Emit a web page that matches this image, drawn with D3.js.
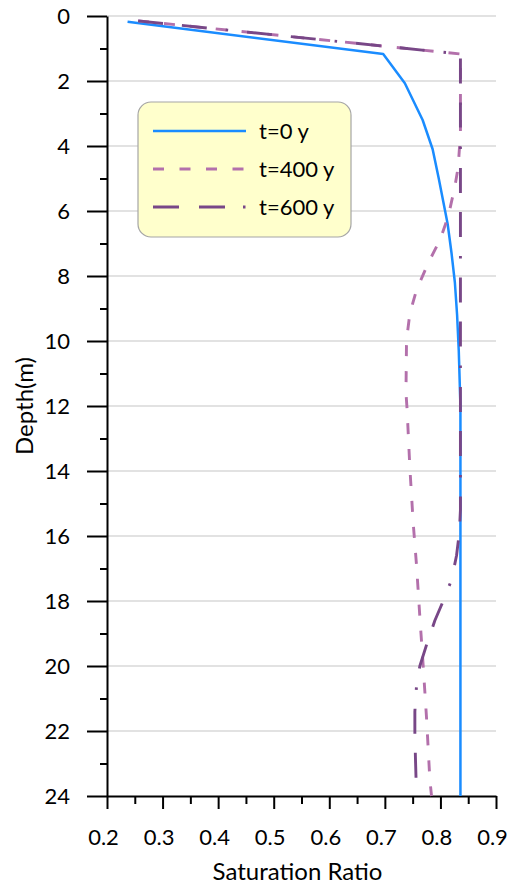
<!DOCTYPE html>
<html>
<head>
<meta charset="utf-8">
<script src="https://cdn.jsdelivr.net/npm/d3@7"></script>
<style>
  body { margin: 0; background: #fff; }
  svg { display: block; font-family: Lato, "Open Sans", sans-serif; }
</style>
</head>
<body>
<svg id="chart" width="509" height="885"></svg>
<script>
// depth (m) and saturation ratio for each profile
var depth0 = [0.18, 1.17, 2.07, 3.2, 4.1, 5.0, 5.7, 6.4, 7.3, 8.2, 9.2, 10.3, 12, 24];
var sat0   = [0.237, 0.697, 0.736, 0.768, 0.786, 0.797, 0.805, 0.813, 0.820, 0.826, 0.830, 0.833, 0.836, 0.836];

var depth400 = [0.15, 1.17, 3.6, 4.64, 5.25, 6.17, 6.9, 7.6, 8.43, 9.15, 9.97, 11.6, 12.1, 13.9, 15.6, 16.9, 18.5, 20.0, 21.6, 23.5, 24];
var sat400   = [0.256, 0.836, 0.836, 0.832, 0.826, 0.814, 0.799, 0.778, 0.757, 0.745, 0.739, 0.738, 0.740, 0.745, 0.751, 0.757, 0.763, 0.769, 0.775, 0.781, 0.784];

var depth600 = [0.15, 1.17, 15.2, 15.9, 16.6, 17.35, 18.0, 18.6, 19.35, 20.0, 20.6, 21.4, 22.1, 22.8, 24];
var sat600   = [0.256, 0.836, 0.836, 0.834, 0.829, 0.820, 0.805, 0.790, 0.775, 0.763, 0.757, 0.754, 0.754, 0.755, 0.757];

var seriesNames = ['t=0 y', 't=400 y', 't=600 y'];
var xTicks = [0.2, 0.3, 0.4, 0.5, 0.6, 0.7, 0.8, 0.9];
var yTicks = [0, 2, 4, 6, 8, 10, 12, 14, 16, 18, 20, 22, 24];

(function () {
    var svg = d3.select('#chart');
    var mLeft = 107, mRight = 496, mTop = 16, mBottom = 796;

    var x = d3.scaleLinear().domain([0.2, 0.9]).range([mLeft, mRight]);
    var y = d3.scaleLinear().domain([0, 24]).range([mTop, mBottom]);

    // gridlines
    svg.append('g').selectAll('line')
        .data(yTicks.slice(0, -1))
        .enter().append('line')
        .attr('x1', mLeft).attr('x2', mRight)
        .attr('y1', function (d) { return y(d); })
        .attr('y2', function (d) { return y(d); })
        .attr('stroke', '#d9d9d9').attr('stroke-width', 1.5);

    // minor ticks
    var yMinor = d3.range(1, 24, 2);
    var xMinor = d3.range(0.25, 0.9, 0.1);

    svg.append('g').attr('transform', 'translate(' + mLeft + ',0)')
        .call(d3.axisLeft(y).tickValues(yMinor).tickSize(7).tickFormat(''))
        .call(function (g) { g.select('.domain').remove(); });
    svg.append('g').attr('transform', 'translate(0,' + mBottom + ')')
        .call(d3.axisBottom(x).tickValues(xMinor).tickSize(8).tickFormat(''))
        .call(function (g) { g.select('.domain').remove(); });

    // major axes
    svg.append('g').attr('transform', 'translate(' + mLeft + ',0)')
        .call(d3.axisLeft(y).tickValues(yTicks).tickSize(20).tickSizeOuter(0).tickPadding(17));
    var xAxis = svg.append('g').attr('transform', 'translate(0,' + mBottom + ')')
        .call(d3.axisBottom(x).tickValues(xTicks).tickSize(13).tickSizeOuter(0).tickPadding(20)
            .tickFormat(d3.format('.1f')));
    xAxis.selectAll('.tick text').attr('dx', -4);

    svg.selectAll('.tick line, .domain').attr('stroke', '#000').attr('stroke-width', 2);
    svg.selectAll('.tick text').attr('font-size', 22).attr('fill', '#000')
        .attr('font-family', 'Lato, "Open Sans", sans-serif');

    // axis titles
    svg.append('text')
        .attr('x', (mLeft + mRight) / 2 - 4).attr('y', 880)
        .attr('text-anchor', 'middle').attr('font-size', 24)
        .text('Saturation Ratio');
    svg.append('text')
        .attr('transform', 'translate(33,' + (mTop + mBottom) / 2 + ') rotate(-90)')
        .attr('text-anchor', 'middle').attr('font-size', 24)
        .text('Depth(m)');

    // profiles
    var styles = [
        {color: '#1a8cff', width: 2.5, dash: null},
        {color: '#b370ab', width: 2.9, dash: '11,15'},
        {color: '#784787', width: 2.9, dash: '25,19,25,19,2.5,19'}
    ];
    var profiles = [
        d3.zip(depth0, sat0),
        d3.zip(depth400, sat400),
        d3.zip(depth600, sat600)
    ];

    var line = d3.line()
        .x(function (d) { return x(d[1]); })
        .y(function (d) { return y(d[0]); });

    profiles.forEach(function (p, i) {
        svg.append('path')
            .attr('d', line(p))
            .attr('fill', 'none')
            .attr('stroke', styles[i].color)
            .attr('stroke-width', styles[i].width)
            .attr('stroke-linejoin', 'round')
            .attr('stroke-dasharray', styles[i].dash);
    });

    // legend
    var lg = svg.append('g');
    lg.append('rect')
        .attr('x', 138).attr('y', 102).attr('width', 213).attr('height', 135)
        .attr('rx', 13).attr('ry', 13)
        .attr('fill', '#ffffcc').attr('stroke', '#a6a6a6').attr('stroke-width', 1.2);

    seriesNames.forEach(function (name, i) {
        var ly = 131 + i * 38;
        lg.append('line')
            .attr('x1', 153).attr('x2', 246).attr('y1', ly).attr('y2', ly)
            .attr('stroke', styles[i].color)
            .attr('stroke-width', styles[i].width)
            .attr('stroke-dasharray', i === 2 ? '26,20,26,18,2.5,30' : (i === 1 ? '11,15.5' : null));
        lg.append('text')
            .attr('x', 259).attr('y', ly).attr('dy', '0.35em')
            .attr('font-size', 22)
            .text(name);
    });
})();
</script>
</body>
</html>
